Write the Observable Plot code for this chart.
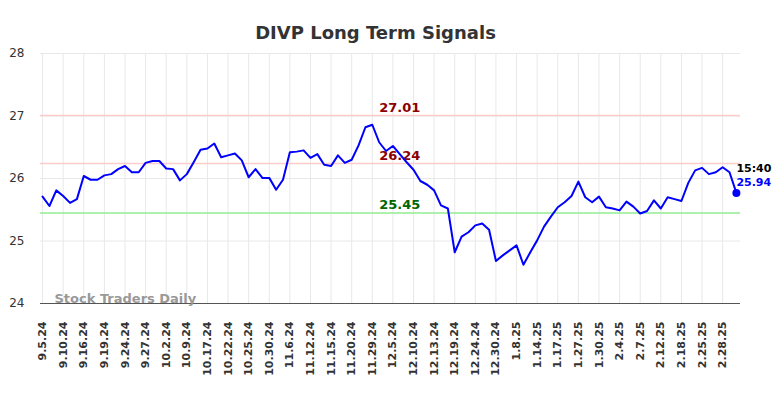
<!DOCTYPE html>
<html><head><meta charset="utf-8">
<script src="https://cdn.jsdelivr.net/npm/d3@7"></script>
<script src="https://cdn.jsdelivr.net/npm/@observablehq/plot@0.6"></script>
<style>body{margin:0;background:#fff}</style>
</head><body><div id="chart"></div>
<script>
const titleText = "DIVP Long Term Signals";
const dateLabels = ["9.5.24","9.10.24","9.16.24","9.19.24","9.24.24","9.27.24","10.2.24","10.9.24","10.17.24","10.22.24","10.25.24","10.30.24","11.6.24","11.12.24","11.15.24","11.20.24","11.29.24","12.5.24","12.10.24","12.13.24","12.19.24","12.24.24","12.30.24","1.8.25","1.14.25","1.17.25","1.27.25","1.30.25","2.4.25","2.7.25","2.12.25","2.18.25","2.25.25","2.28.25"];
const values = [25.71,25.56,25.81,25.72,25.61,25.67,26.04,25.98,25.98,26.05,26.07,26.15,26.20,26.10,26.10,26.25,26.28,26.28,26.16,26.15,25.97,26.07,26.26,26.46,26.48,26.56,26.34,26.37,26.40,26.29,26.02,26.15,26.01,26.01,25.82,25.98,26.42,26.43,26.45,26.33,26.39,26.22,26.20,26.37,26.25,26.30,26.53,26.82,26.86,26.58,26.44,26.52,26.39,26.26,26.14,25.96,25.90,25.81,25.57,25.52,24.82,25.07,25.14,25.25,25.28,25.18,24.68,24.77,24.85,24.93,24.62,24.82,25.01,25.23,25.39,25.54,25.62,25.72,25.95,25.70,25.62,25.71,25.54,25.52,25.49,25.63,25.55,25.44,25.48,25.65,25.52,25.70,25.67,25.64,25.93,26.13,26.17,26.07,26.10,26.18,26.10,25.77];
const levelValues = [27.01, 26.24, 25.45];
const levelLabels = ["27.01", "26.24", "25.45"];
const levelLineColors = ["#ffcccc", "#ffcccc", "#90ee90"];
const levelTextColors = ["#8b0000", "#8b0000", "#006400"];
const levelLabelIndex = 52;
const lastTime = "15:40";
const lastLabel = "25.94";
const yTicks = [24, 25, 26, 27, 28];

const data = values.map((v, i) => ({i, v}));
const tickIdx = dateLabels.map((_, k) => k * 3);
const levels = levelValues.map((v, k) => ({v, label: levelLabels[k], line: levelLineColors[k], text: levelTextColors[k], i: levelLabelIndex}));
const last = data[data.length - 1];

const chart = Plot.plot({
  width: 784, height: 398,
  marginTop: 53, marginBottom: 95, marginLeft: 40, marginRight: 44,
  style: {fontFamily: "DejaVu Sans, sans-serif", fontSize: "11px", color: "#333", background: "#fff"},
  x: {domain: [-0.3, 101.6]},
  y: {domain: [24, 28]},
  marks: [
    Plot.gridX(tickIdx, {stroke: "#e8e8e8", strokeOpacity: 1}),
    Plot.gridY(yTicks.slice(1), {stroke: "#e8e8e8", strokeOpacity: 1}),
    Plot.ruleY([24], {stroke: "#555", strokeWidth: 1}),
    Plot.axisX(tickIdx, {tickFormat: i => dateLabels[i / 3], tickRotate: -90, tickSize: 0, tickPadding: 18, label: null, fontWeight: "bold", fill: "#333"}),
    Plot.axisY(yTicks, {tickFormat: d => String(d), tickSize: 0, tickPadding: 16, label: null, fontSize: 12, fill: "#333"}),
    Plot.ruleY(levels, {y: "v", stroke: "line", strokeWidth: 1.5}),
    Plot.text(levels, {x: "i", y: "v", text: "label", fill: "text", dy: -8, fontSize: 13, fontWeight: "bold"}),
    Plot.text(["Stock Traders Daily"], {frameAnchor: "bottom-left", dx: 14, dy: -1, textAnchor: "start", fontSize: 13, fontWeight: "bold", fill: "#999"}),
    Plot.line(data, {x: "i", y: "v", stroke: "#0000ff", strokeWidth: 2}),
    Plot.dot([last], {x: "i", y: "v", r: 4, fill: "#0000ff"}),
    Plot.text([last], {x: "i", y: "v", text: () => lastTime, dy: -24, dx: 0, textAnchor: "start", fontSize: 11, fontWeight: "bold", fill: "#000"}),
    Plot.text([last], {x: "i", y: "v", text: () => lastLabel, dy: -10, dx: 0, textAnchor: "start", fontSize: 11, fontWeight: "bold", fill: "#0000ff"}),
    Plot.text([titleText], {frameAnchor: "top", dy: -27, dx: -15, fontSize: 18, fontWeight: "bold", fill: "#333"})
  ]
});
document.getElementById("chart").appendChild(chart);
</script></body></html>
